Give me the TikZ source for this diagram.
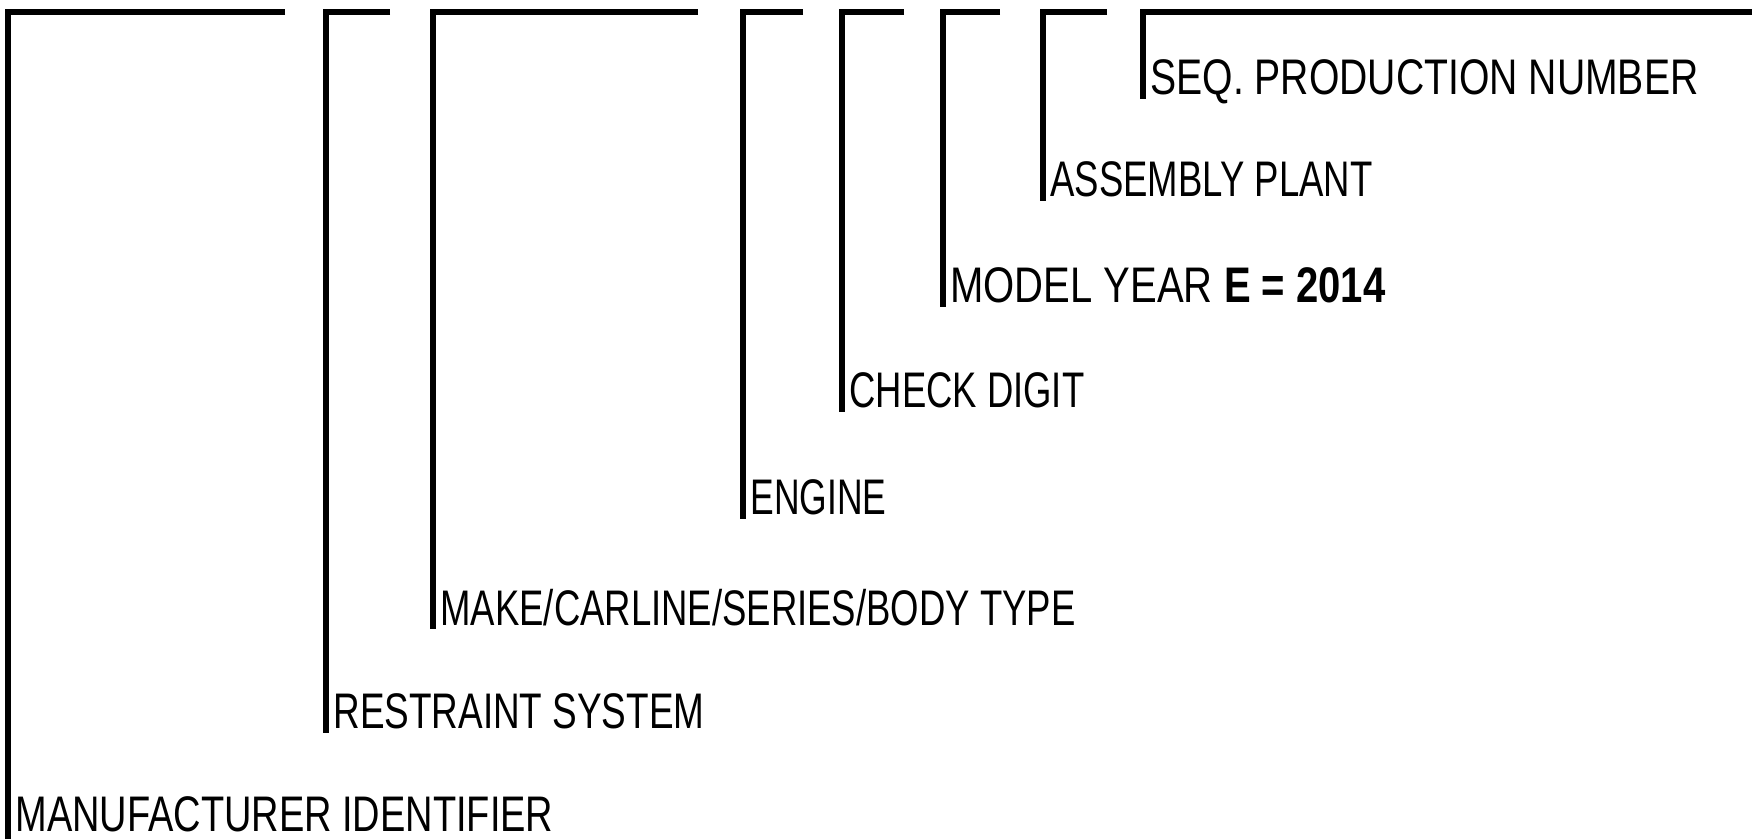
\documentclass[tikz,border=0pt]{standalone}
\usepackage{fontspec}
\usepackage{graphicx}
\newfontfamily\lab{Liberation Sans}[FakeStretch=0.77]
\newcommand\fitw[2]{\resizebox{#1pt}{\height}{#2}}
\begin{document}
\begin{tikzpicture}[x=0.5pt,y=-0.5pt,
  bracket/.style={line width=3pt,line join=miter,line cap=butt,black},
  label/.style={anchor=base west,inner sep=0pt,text=black,font=\lab\fontsize{25}{30}\selectfont}]
\useasboundingbox (0,0) rectangle (1752,839);
% corners (c), ends of top bars (e), feet (f)
\coordinate (c1) at (8,12);    \coordinate (e1) at (285,12);  \coordinate (f1) at (8,839);
\coordinate (c2) at (326,12);  \coordinate (e2) at (390,12);  \coordinate (f2) at (326,733);
\coordinate (c3) at (433,12);  \coordinate (e3) at (698,12);  \coordinate (f3) at (433,629);
\coordinate (c4) at (743,12);  \coordinate (e4) at (803,12);  \coordinate (f4) at (743,519);
\coordinate (c5) at (842,12);  \coordinate (e5) at (904,12);  \coordinate (f5) at (842,412);
\coordinate (c6) at (943,12);  \coordinate (e6) at (1000,12); \coordinate (f6) at (943,307);
\coordinate (c7) at (1043,12); \coordinate (e7) at (1107,12); \coordinate (f7) at (1043,201);
\coordinate (c8) at (1143,12); \coordinate (e8) at (1752,12); \coordinate (f8) at (1143,99);
% labels
\node[label] (l1) at (15,831) {\fitw{269}{MANUFACTURER IDENTIFIER}};
\node[label] (l2) at (333,728) {\fitw{185.5}{RESTRAINT SYSTEM}};
\node[label] (l3) at (440,625) {\fitw{317.5}{MAKE/CARLINE/SERIES/BODY TYPE}};
\node[label] (l4) at (750,515) {\fitw{68}{ENGINE}};
\node[label] (l5) at (849,408) {\fitw{117.5}{CHECK DIGIT}};
\node[label] (l6) at (950,303) {\fitw{217.5}{MODEL YEAR \textbf{E = 2014}}};
\node[label] (l7) at (1050,197) {\fitw{161}{ASSEMBLY PLANT}};
\node[label] (l8) at (1150,95) {\fitw{274}{SEQ. PRODUCTION NUMBER}};
% brackets
\foreach \i in {1,...,8}{
  \draw[bracket] (e\i) -- (c\i) -- (f\i);
}
\end{tikzpicture}
\end{document}
